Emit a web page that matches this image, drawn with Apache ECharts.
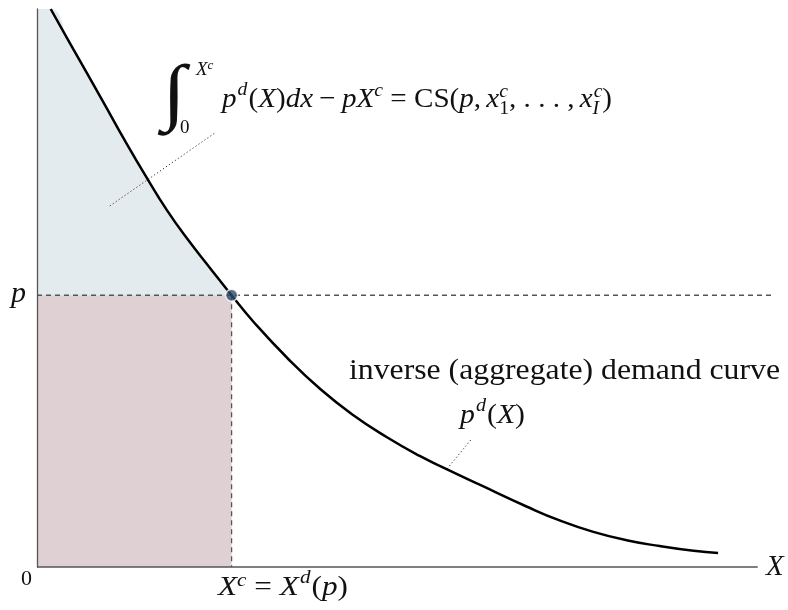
<!DOCTYPE html>
<html>
<head>
<meta charset="utf-8">
<script src="https://cdn.jsdelivr.net/npm/echarts@6/dist/echarts.min.js"></script>
<style>
  html, body { margin: 0; padding: 0; background: #fff; }
  #main { width: 788px; height: 610px; }
</style>
</head>
<body>
<div id="main"></div>
<script>
// Inverse (aggregate) demand curve p^d(X), quantity on x, price on y
const curveX = [0.19, 0.46, 0.93, 1.22, 1.53, 1.80, 2.08, 2.40, 2.70, 3.00, 3.47, 3.93,
                4.39, 4.85, 5.31, 5.69, 6.15, 6.80, 7.26, 7.72, 8.18, 8.64, 9.11, 9.45];
const curveY = [10.0, 9.38, 8.31, 7.64, 6.96, 6.40, 5.89, 5.36, 4.87, 4.40, 3.75, 3.19,
                2.72, 2.33, 1.99, 1.75, 1.47, 1.08, 0.83, 0.63, 0.48, 0.375, 0.29, 0.25];

// Market price and the quantity demanded at that price
const priceLevel = 4.87;
const quantityAtPrice = 2.70;

// Axis extents: the quantity axis is drawn to xMax, the price line runs a bit further
const xMax = 10;
const yMax = 10;
const priceLineEnd = 10.24;

// Dotted leader lines from the annotations to the areas they describe
const leaderSurplusX = [1.01, 2.47];
const leaderSurplusY = [6.47, 7.78];
const leaderDemandX = [5.69, 6.02];
const leaderDemandY = [1.76, 2.28];

// Text
const originLabel = '0';
const xAxisLabel = 'X';
const priceLabel = 'p';
const curveCaption = 'inverse (aggregate) demand curve';

const SERIF = '"Liberation Serif", "Times New Roman", serif';
const INK = '#111';
const AXIS = '#555';

const mctx = document.createElement('canvas').getContext('2d');

// Lay out a row of math tokens along a baseline; optional target width
// stretches the whole row horizontally.
function mathRow(tokens, x0, baseline, targetWidth) {
  let cur = 0;
  const placed = [];
  tokens.forEach(tk => {
    const font = (tk.it ? 'italic ' : '') + tk.s + 'px ' + SERIF;
    mctx.font = font;
    const w = mctx.measureText(tk.t).width;
    const off = cur + (tk.dx || 0);
    placed.push({ tk, font, off });
    if (!tk.stack) cur = off + w + (tk.gap || 0);
  });
  const f = targetWidth ? targetWidth / cur : 1;
  return placed.map(p => ({
    type: 'text',
    x: x0 + p.off * f,
    y: baseline + (p.tk.dy || 0) - 0.34 * p.tk.s,
    scaleX: f,
    silent: true,
    style: {
      text: p.tk.t, font: p.font, fill: INK,
      align: 'left', verticalAlign: 'middle',
      textAlign: 'left', textVerticalAlign: 'middle'
    }
  }));
}

const M = 28, S = 19;

const formulaTokens = [
  { t: 'p', s: M, it: true },
  { t: 'd', s: S, it: true, dy: -13, dx: 1 },
  { t: '(', s: M, dx: 1 },
  { t: 'X', s: M, it: true },
  { t: ')', s: M },
  { t: 'dx', s: M, it: true },
  { t: '\u2212', s: M, dx: 6, gap: 6 },
  { t: 'p', s: M, it: true },
  { t: 'X', s: M, it: true },
  { t: 'c', s: S, it: true, dy: -12 },
  { t: '=', s: M, dx: 7, gap: 7 },
  { t: 'CS(', s: M },
  { t: 'p', s: M, it: true },
  { t: ',', s: M, gap: 5 },
  { t: 'x', s: M, it: true },
  { t: 'c', s: S, it: true, dy: -11, stack: true },
  { t: '1', s: S, dy: 6 },
  { t: ', . . . ,', s: M, gap: 5 },
  { t: 'x', s: M, it: true },
  { t: 'c', s: S, it: true, dy: -11, stack: true, dx: 1 },
  { t: 'I', s: S, it: true, dy: 6, gap: 3 },
  { t: ')', s: M }
];

const demandTokens = [
  { t: 'p', s: M, it: true },
  { t: 'd', s: S, it: true, dy: -13, dx: 1 },
  { t: '(', s: M, dx: 1 },
  { t: 'X', s: M, it: true },
  { t: ')', s: M }
];

const quantityTokens = [
  { t: 'X', s: M, it: true },
  { t: 'c', s: S, it: true, dy: -10 },
  { t: '=', s: M, dx: 7, gap: 7 },
  { t: 'X', s: M, it: true },
  { t: 'd', s: S, it: true, dy: -13, dx: 1 },
  { t: '(', s: M, dx: 1 },
  { t: 'p', s: M, it: true },
  { t: ')', s: M }
];

const graphics = []
  .concat(mathRow(formulaTokens, 222, 109, 390))
  .concat(mathRow(demandTokens, 460, 425, 65))
  .concat(mathRow(quantityTokens, 218, 597, 130))
  .concat(mathRow([{ t: curveCaption, s: 29 }], 349, 381, 431))
  .concat(mathRow([{ t: 'X', s: 19, it: true }, { t: 'c', s: 13, it: true, dy: -6 }], 196, 76))
  .concat(mathRow([{ t: '0', s: 19 }], 180, 134))
  .concat(mathRow([{ t: priceLabel, s: 30, it: true }], 11, 304))
  .concat(mathRow([{ t: originLabel, s: 22 }], 21, 587))
  .concat(mathRow([{ t: xAxisLabel, s: 29, it: true }], 766, 577));

// Integral sign of the consumer-surplus formula
graphics.push({
  type: 'text', x: 174, y: 97, scaleX: 1.35, scaleY: 1.15, silent: true,
  style: {
    text: '\u222B', font: '64px ' + SERIF, fill: INK,
    align: 'center', verticalAlign: 'middle',
    textAlign: 'center', textVerticalAlign: 'middle'
  }
});

const curvePts = curveX.map((x, i) => [x, curveY[i]]);
const surplusPts = [[0, yMax]].concat(curvePts.filter(p => p[0] <= quantityAtPrice + 1e-9));
const SMOOTH = 0.5;

const chart = echarts.init(document.getElementById('main'), null, { renderer: 'canvas' });

const axisCommon = {
  type: 'value', min: 0,
  axisTick: { show: false }, axisLabel: { show: false }, splitLine: { show: false }
};

chart.setOption({
  animation: false,
  backgroundColor: '#fff',
  grid: { left: 37, right: 13, top: 9, bottom: 43 },
  xAxis: Object.assign({}, axisCommon, { max: priceLineEnd, axisLine: { show: false } }),
  yAxis: Object.assign({}, axisCommon, {
    max: yMax, z: 5,
    axisLine: { show: true, onZero: false, lineStyle: { color: AXIS, width: 1.3 } }
  }),
  graphic: { elements: graphics },
  series: [
    { // consumer surplus
      type: 'line', data: surplusPts, smooth: SMOOTH,
      symbol: 'none', z: 1, lineStyle: { width: 0 },
      areaStyle: { color: '#e4ebef', opacity: 1, origin: priceLevel }
    },
    { // expenditure p * X^c
      type: 'line', data: [[0, priceLevel], [quantityAtPrice, priceLevel]],
      symbol: 'none', z: 1, lineStyle: { width: 0 },
      areaStyle: { color: '#dfd0d3', opacity: 1, origin: 'start' }
    },
    { // quantity axis
      type: 'line', data: [[0, 0], [xMax, 0]],
      symbol: 'none', z: 5, clip: false,
      lineStyle: { color: AXIS, width: 1.3 }
    },
    { // price level
      type: 'line', data: [[0, priceLevel], [priceLineEnd, priceLevel]],
      symbol: 'none', z: 3,
      lineStyle: { color: AXIS, width: 1.3, type: [5, 4] }
    },
    { // quantity demanded at p
      type: 'line', data: [[quantityAtPrice, priceLevel], [quantityAtPrice, 0]],
      symbol: 'none', z: 3,
      lineStyle: { color: AXIS, width: 1.3, type: [5, 4] }
    },
    { // leader lines
      type: 'line', data: leaderSurplusX.map((x, i) => [x, leaderSurplusY[i]]),
      symbol: 'none', z: 3, lineStyle: { color: '#333', width: 1, type: [1.2, 2.4] }
    },
    {
      type: 'line', data: leaderDemandX.map((x, i) => [x, leaderDemandY[i]]),
      symbol: 'none', z: 3, lineStyle: { color: '#333', width: 1, type: [1.2, 2.4] }
    },
    { // demand curve
      type: 'line', data: curvePts, smooth: SMOOTH,
      symbol: 'none', z: 4, lineStyle: { color: '#000', width: 2.5 }
    },
    { // market point
      type: 'scatter', data: [[quantityAtPrice, priceLevel]], z: 6,
      symbolSize: 12,
      itemStyle: { color: '#2d4a68', borderColor: '#fff', borderWidth: 1.5 }
    }
  ]
});
</script>
</body>
</html>
